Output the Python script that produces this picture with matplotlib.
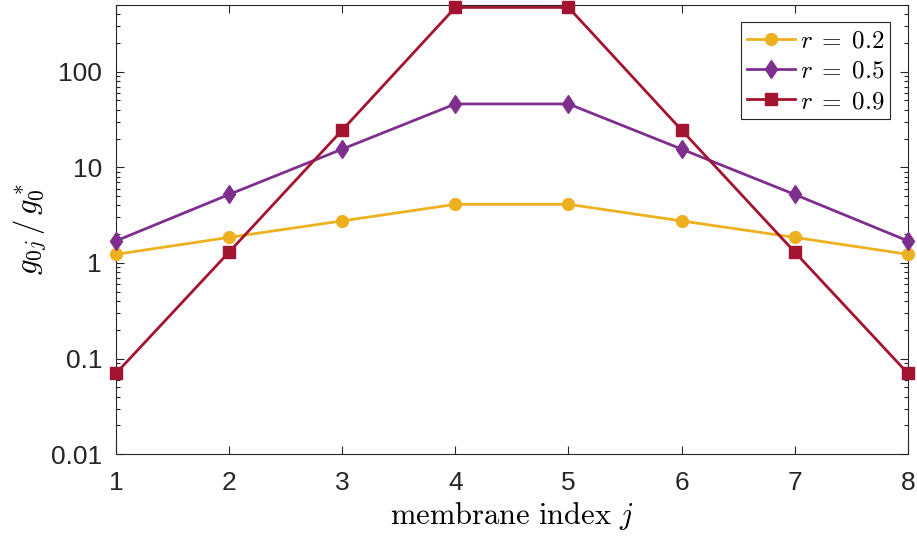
import matplotlib
matplotlib.use('Agg')
import matplotlib.pyplot as plt
from matplotlib.ticker import LogLocator, FixedLocator, NullFormatter

plt.rcParams['font.family'] = ['Liberation Sans', 'DejaVu Sans']
plt.rcParams['mathtext.fontset'] = 'cm'

j = [1, 2, 3, 4, 5, 6, 7, 8]
g_r02 = [1.23, 1.85, 2.75, 4.1, 4.1, 2.75, 1.85, 1.23]
g_r05 = [1.7, 5.2, 15.5, 46, 46, 15.5, 5.2, 1.7]
g_r09 = [0.07, 1.3, 24.5, 470, 470, 24.5, 1.3, 0.07]
labels = [r'$r\;=\;0.2$', r'$r\;=\;0.5$', r'$r\;=\;0.9$']
yticks = [0.01, 0.1, 1, 10, 100]
yticklabels = ['0.01', '0.1', '1', '10', '100']

fig = plt.figure(figsize=(9.17, 5.4), dpi=100)
ax = fig.add_axes([0.1265, 0.159, 0.8635, 0.832])

ax.plot(j, g_r02, '-o', color='#EDB120', lw=2, ms=8.5, label=labels[0], clip_on=False, zorder=3)
ax.plot(j, g_r05, '-d', color='#7E2F8E', lw=2, ms=9.5, label=labels[1], clip_on=False, zorder=3)
ax.plot(j, g_r09, '-s', color='#A2142F', lw=2, ms=8, label=labels[2], clip_on=False, zorder=3)

ax.set_yscale('log')
ax.set_xlim(1, 8)
ax.set_ylim(0.01, 500)
ax.set_xticks(j)
ax.yaxis.set_major_locator(FixedLocator(yticks))
ax.set_yticklabels(yticklabels)
ax.yaxis.set_minor_locator(LogLocator(base=10, subs=range(2, 10), numticks=20))
ax.yaxis.set_minor_formatter(NullFormatter())

ax.tick_params(which='both', direction='in', top=True, right=True, colors='#262626',
               labelsize=19, width=0.8)
ax.tick_params(which='major', length=6)
ax.tick_params(which='minor', length=3)
ax.tick_params(axis='x', pad=12)
ax.tick_params(axis='y', pad=10)
for s in ax.spines.values():
    s.set_color('#262626')
    s.set_linewidth(0.8)

ax.set_xlabel(r'$\mathrm{membrane\ index}\ j$', fontsize=22, labelpad=4)
ax.set_ylabel(r'$g_{0j}\,/\,g_0^*$', fontsize=22, labelpad=2)

leg = ax.legend(loc='upper right', fontsize=18, frameon=True, fancybox=False,
                edgecolor='#262626', framealpha=1, borderaxespad=0.7,
                handlelength=1.9, handletextpad=0.2, labelspacing=0.25, borderpad=0.25)
leg.get_frame().set_linewidth(0.8)

fig.savefig('out.png', dpi=100)
